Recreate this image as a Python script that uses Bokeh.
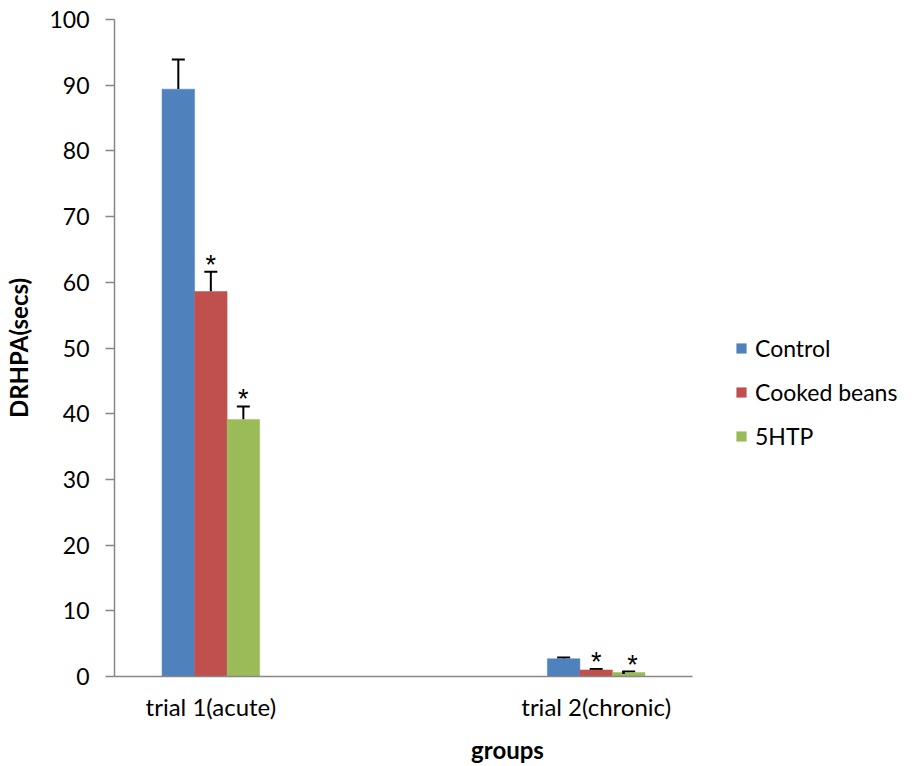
from bokeh.plotting import figure
from bokeh.models import (ColumnDataSource, Whisker, Legend, LegendItem, FixedTicker,
                          Range1d)
from bokeh.core.properties import value
from bokeh.embed import file_html
from bokeh.resources import INLINE

groups = ["trial 1(acute)", "trial 2(chronic)"]
series = ["Control", "Cooked beans", "5HTP"]
colors = ["#4F81BD", "#C0504D", "#9BBB59"]
control = [89.4, 2.7]
cooked = [58.6, 1.0]
htp = [39.1, 0.6]
control_err = [4.5, 0.2]
cooked_err = [3.0, 0.15]
htp_err = [2.0, 0.15]
control_sig = ["", ""]
cooked_sig = ["*", "*"]
htp_sig = ["*", ".*"]
y_ticks = [0, 10, 20, 30, 40, 50, 60, 70, 80, 90, 100]

FONT = "Lato"
W, H = 905, 766
LEFT, RIGHT = 114, 5
frame_w = W - LEFT - RIGHT
axis_px = 578  # drawn x axis length in pixels
x_end = 0.75 + 1.5 * frame_w / axis_px
p = figure(width=W, height=H, output_backend="svg", toolbar_location=None,
           x_range=Range1d(0.75, x_end), y_range=Range1d(0, 100),
           min_border_left=LEFT, min_border_right=RIGHT, min_border_top=19,
           min_border_bottom=88)
p.outline_line_color = None
p.xgrid.visible = False
p.ygrid.visible = False

bw = 0.0844
offsets = [-bw, 0.0, bw]
vals = [control, cooked, htp]
errs = [control_err, cooked_err, htp_err]
sigs = [control_sig, cooked_sig, htp_sig]
renderers = []
for i, name in enumerate(series):
    xs = [k + 1 + offsets[i] for k in range(len(groups))]
    src = ColumnDataSource(dict(x=xs, top=vals[i],
                                up=[v + e for v, e in zip(vals[i], errs[i])],
                                sig=sigs[i]))
    r = p.vbar(x="x", top="top", width=bw, source=src, fill_color=colors[i],
               line_color=colors[i], line_width=0.5)
    renderers.append(r)
    w = Whisker(base="x", lower="top", upper="up", source=src, dimension="height",
                line_color="black", line_width=2)
    w.lower_head = None
    w.upper_head.size = 13
    w.upper_head.line_color = "black"
    w.upper_head.line_width = 2
    p.add_layout(w)
    p.text(x="x", y="up", text="sig", source=src, text_align="center",
           text_baseline="alphabetic", y_offset=-7, text_font=value("Liberation Sans"),
           text_font_size="27px", text_color="black")

p.yaxis.ticker = FixedTicker(ticks=y_ticks)
p.xaxis.ticker = FixedTicker(ticks=[1, 2])
p.xaxis.major_label_overrides = {1: groups[0], 2: groups[1]}
p.xaxis.bounds = (0.75, 2.25)
for ax in (p.xaxis[0], p.yaxis[0]):
    ax.axis_line_color = "#868686"
    ax.axis_line_width = 1.5
    ax.major_tick_line_color = "#868686"
    ax.major_tick_line_width = 1.5
    ax.minor_tick_line_color = None
    ax.major_label_text_font = FONT
    ax.major_label_text_font_size = "24px"
    ax.major_label_text_color = "black"
    ax.axis_label_text_font = FONT
    ax.axis_label_text_font_size = "24px"
    ax.axis_label_text_font_style = "bold"
    ax.axis_label_text_color = "black"
p.yaxis.major_label_text_font_size = "23px"
p.yaxis.major_tick_out = 9
p.yaxis.major_tick_in = 0
p.yaxis.major_label_standoff = 16
p.xaxis.major_tick_out = 0
p.xaxis.major_tick_in = 0
p.xaxis.major_label_standoff = 15
p.xaxis.axis_label = "groups"
p.xaxis.axis_label_standoff = 11
p.yaxis.axis_label = "DRHPA(secs)"
p.yaxis.axis_label_standoff = 13

legend = Legend(items=[LegendItem(label=s, renderers=[r]) for s, r in zip(series, renderers)],
                location=(621, 225), border_line_color=None, background_fill_alpha=0,
                glyph_width=12, glyph_height=12, label_standoff=8, spacing=14,
                label_height=30, padding=0, margin=0,
                label_text_font=FONT, label_text_font_size="23px",
                label_text_color="black")
p.add_layout(legend, "center")

open("out.html", "w").write(file_html(p, INLINE))
